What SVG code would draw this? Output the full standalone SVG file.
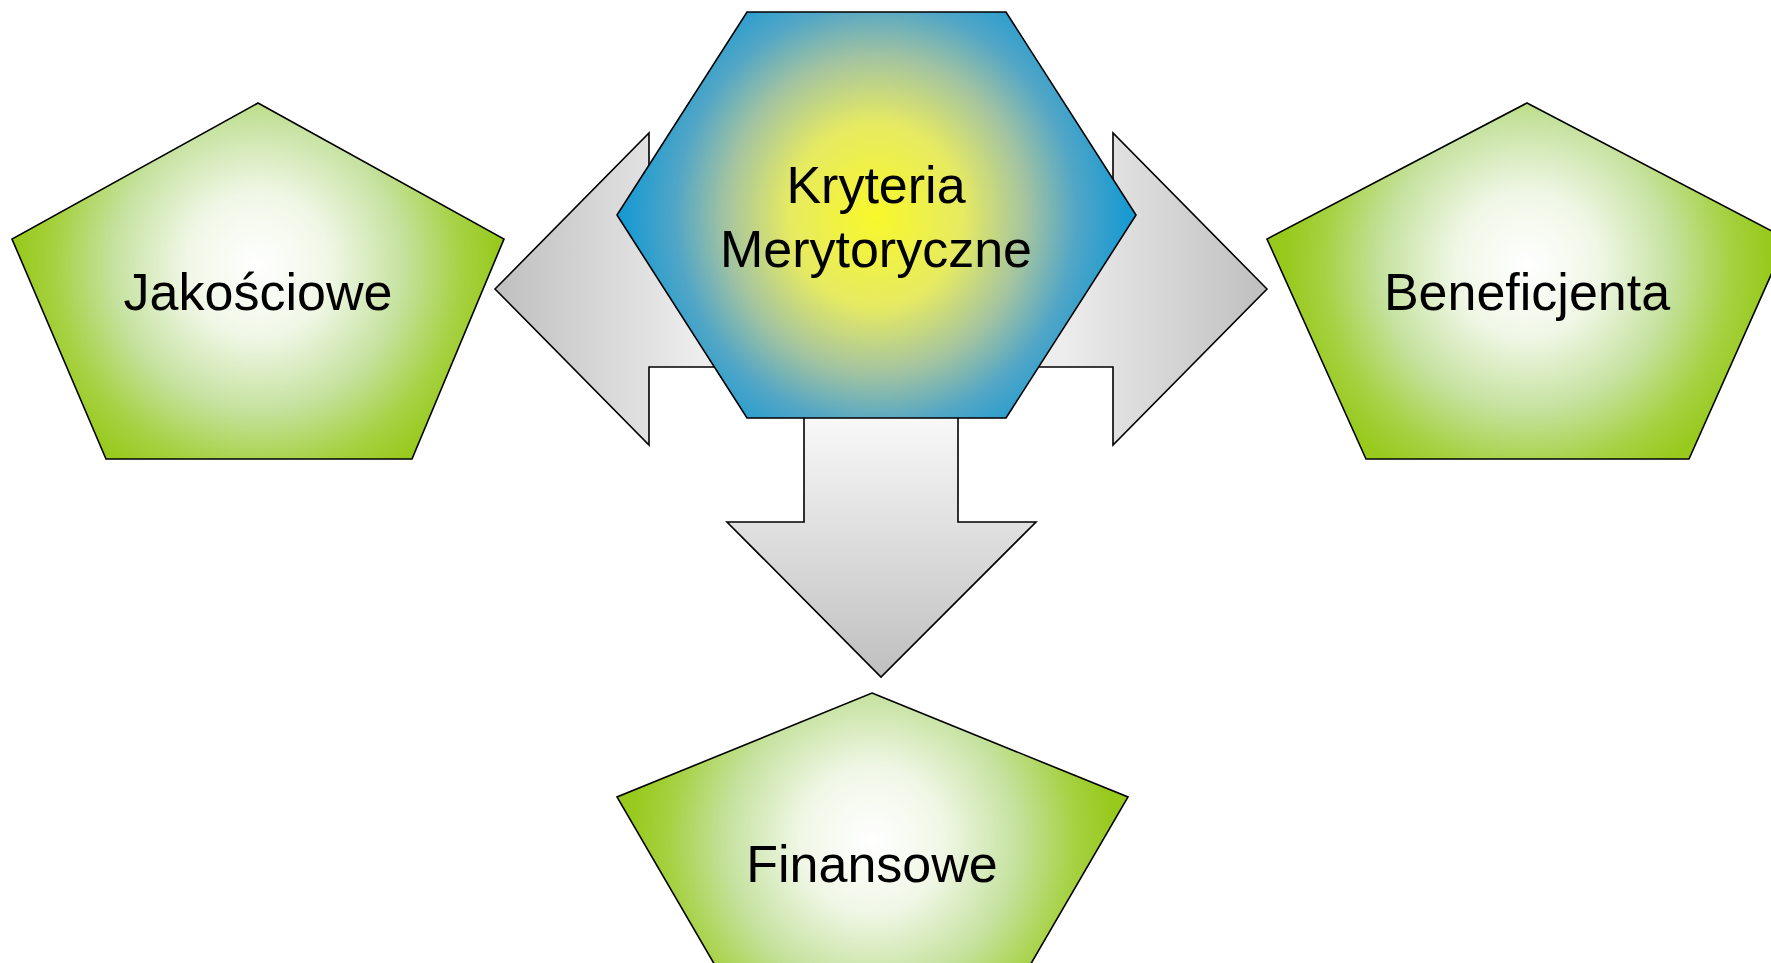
<svg xmlns="http://www.w3.org/2000/svg" width="1771" height="963" viewBox="0 0 1771 963">
<style>
.shape{stroke:#000;stroke-width:1.6;stroke-linejoin:miter}
.lbl{font-family:"Liberation Sans",Arial,sans-serif;font-size:52px;fill:#000;text-anchor:middle}
</style>
<defs>
<radialGradient id="gJ" gradientUnits="userSpaceOnUse" cx="258" cy="265" r="240">
<stop offset="0" stop-color="#FFFFFF"/><stop offset="0.3" stop-color="#F0F7E6"/><stop offset="0.6" stop-color="#C6E2A0"/><stop offset="0.85" stop-color="#A6D142"/><stop offset="1" stop-color="#98CA1E"/>
</radialGradient>
<radialGradient id="gB" gradientUnits="userSpaceOnUse" cx="1527" cy="265" r="240">
<stop offset="0" stop-color="#FFFFFF"/><stop offset="0.3" stop-color="#F0F7E6"/><stop offset="0.6" stop-color="#C6E2A0"/><stop offset="0.85" stop-color="#A6D142"/><stop offset="1" stop-color="#98CA1E"/>
</radialGradient>
<radialGradient id="gF" gradientUnits="userSpaceOnUse" cx="872" cy="840" r="240">
<stop offset="0" stop-color="#FFFFFF"/><stop offset="0.3" stop-color="#F0F7E6"/><stop offset="0.6" stop-color="#C6E2A0"/><stop offset="0.85" stop-color="#A6D142"/><stop offset="1" stop-color="#98CA1E"/>
</radialGradient>
<radialGradient id="gH" gradientUnits="userSpaceOnUse" cx="876" cy="215" r="250" gradientTransform="translate(876 215) scale(1 1.05) translate(-876 -215)">
<stop offset="0" stop-color="#F8F82A"/><stop offset="0.35" stop-color="#E6EA62"/><stop offset="0.6" stop-color="#A4C4A0"/><stop offset="0.8" stop-color="#52A6C6"/><stop offset="1" stop-color="#1A9AD2"/>
</radialGradient>
<linearGradient id="aL" gradientUnits="userSpaceOnUse" x1="495" y1="0" x2="700" y2="0">
<stop offset="0" stop-color="#BFBFBF"/><stop offset="1" stop-color="#EDEDED"/>
</linearGradient>
<linearGradient id="aR" gradientUnits="userSpaceOnUse" x1="1060" y1="0" x2="1267" y2="0">
<stop offset="0" stop-color="#EDEDED"/><stop offset="1" stop-color="#BFBFBF"/>
</linearGradient>
<linearGradient id="aD" gradientUnits="userSpaceOnUse" x1="0" y1="418" x2="0" y2="677">
<stop offset="0" stop-color="#F8F8F8"/><stop offset="1" stop-color="#BFBFBF"/>
</linearGradient>
</defs>
<g id="connectors">
<polygon class="shape" fill="url(#aL)" points="495,289 649,133 649,211 760,211 760,367 649,367 649,445"/>
<polygon class="shape" fill="url(#aR)" points="1267,289 1113,133 1113,211 1000,211 1000,367 1113,367 1113,445"/>
<polygon class="shape" fill="url(#aD)" points="804,400 958,400 958,522 1036,522 881,677 727,522 804,522"/>
</g>
<g id="node-kryteria">
<polygon class="shape" fill="url(#gH)" points="747,12 1006,12 1136,215 1006,418 747,418 617,215"/>
<text class="lbl" x="876" y="203">Kryteria</text>
<text class="lbl" x="876" y="267">Merytoryczne</text>
</g>
<g id="node-jakosciowe">
<polygon class="shape" fill="url(#gJ)" points="258,103 504,239 412,459 106,459 12,239"/>
<text class="lbl" x="258" y="310">Jakościowe</text>
</g>
<g id="node-beneficjenta">
<polygon class="shape" fill="url(#gB)" points="1527,103 1787,239 1689,459 1366,459 1267,239"/>
<text class="lbl" x="1527" y="310">Beneficjenta</text>
</g>
<g id="node-finansowe">
<polygon class="shape" fill="url(#gF)" points="872,693 1128,797 1029,967 716,967 617,797"/>
<text class="lbl" x="872" y="882">Finansowe</text>
</g>
</svg>
